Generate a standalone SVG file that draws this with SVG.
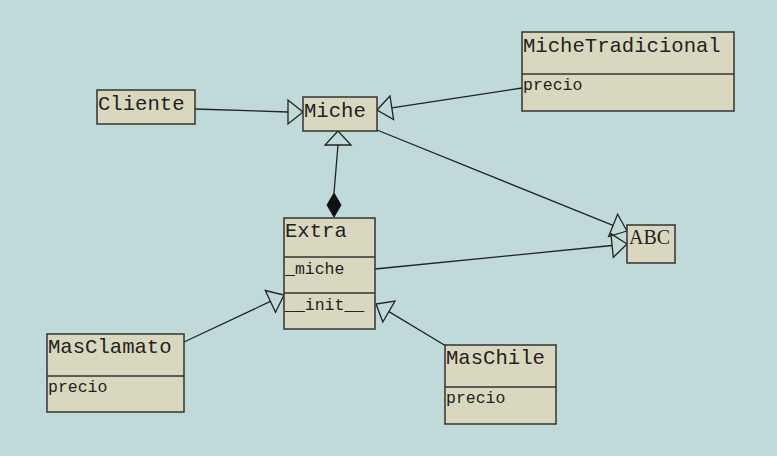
<svg xmlns="http://www.w3.org/2000/svg" width="777" height="456" viewBox="0 0 777 456">
<style>
.box{fill:#d9d8be;stroke:#333;stroke-width:1.5}
.div{stroke:#333;stroke-width:1.5}
.name{font-family:"Liberation Mono","Courier New",monospace;font-size:20.6px;fill:#222}
.attr{font-family:"Liberation Mono","Courier New",monospace;font-size:16.5px;fill:#222}
.serif{font-family:"Liberation Serif","Times New Roman",serif;font-size:20px;fill:#222}
.ln{stroke:#222;stroke-width:1.3;fill:none}
.tri{stroke:#222;stroke-width:1.3;fill:none}
.dia{fill:#111;stroke:#111;stroke-width:1}
</style>
<rect width="777" height="456" fill="#c0dada"/>
<g id="connectors">
<line class="ln" x1="195" y1="109" x2="288" y2="112"/>
<polygon class="tri" points="303,112 288,100 288,124"/>
<line class="ln" x1="522" y1="88" x2="391.8" y2="107.8"/>
<polygon class="tri" points="377,110 390,96 393.6,119.6"/>
<line class="ln" x1="338" y1="145" x2="334" y2="193"/>
<polygon class="tri" points="338,131 325,145 351,145"/>
<polygon class="dia" points="334,193 341,205 334,217 327,205"/>
<line class="ln" x1="377" y1="130" x2="613" y2="225.4"/>
<polygon class="tri" points="627,231 608.6,236.5 617.6,214.3"/>
<line class="ln" x1="375" y1="269" x2="612" y2="245.5"/>
<polygon class="tri" points="627,244 613.3,257.4 610.9,233.6"/>
<line class="ln" x1="184" y1="342" x2="270.4" y2="301.4"/>
<polygon class="tri" points="284,295 275.5,312.3 265.3,290.5"/>
<line class="ln" x1="446" y1="346" x2="388.9" y2="311.6"/>
<polygon class="tri" points="376,304 395,301.2 382.8,322"/>
</g>
<g id="Cliente">
<rect class="box" x="97" y="90" width="98" height="34"/>
<text class="name" x="98" y="110">Cliente</text>
</g>
<g id="Miche">
<rect class="box" x="303" y="97" width="74" height="34"/>
<text class="name" x="304" y="117">Miche</text>
</g>
<g id="MicheTradicional">
<rect class="box" x="522" y="32" width="212" height="79"/>
<line class="div" x1="522" y1="74" x2="734" y2="74"/>
<text class="name" x="523" y="52">MicheTradicional</text>
<text class="attr" x="523" y="90">precio</text>
</g>
<g id="Extra">
<rect class="box" x="284" y="218" width="91" height="111"/>
<line class="div" x1="284" y1="257" x2="375" y2="257"/>
<line class="div" x1="284" y1="293" x2="375" y2="293"/>
<text class="name" x="285" y="237">Extra</text>
<text class="attr" x="285" y="274">_miche</text>
<text class="attr" x="285" y="310">__init__</text>
</g>
<g id="MasClamato">
<rect class="box" x="47" y="334" width="137" height="78"/>
<line class="div" x1="47" y1="376" x2="184" y2="376"/>
<text class="name" x="48" y="353">MasClamato</text>
<text class="attr" x="48" y="392">precio</text>
</g>
<g id="MasChile">
<rect class="box" x="445" y="345" width="111" height="79"/>
<line class="div" x1="445" y1="387" x2="556" y2="387"/>
<text class="name" x="446" y="364">MasChile</text>
<text class="attr" x="446" y="403">precio</text>
</g>
<g id="ABC">
<rect class="box" x="627" y="225" width="48" height="38"/>
<text class="serif" x="629" y="244">ABC</text>
</g>
</svg>
